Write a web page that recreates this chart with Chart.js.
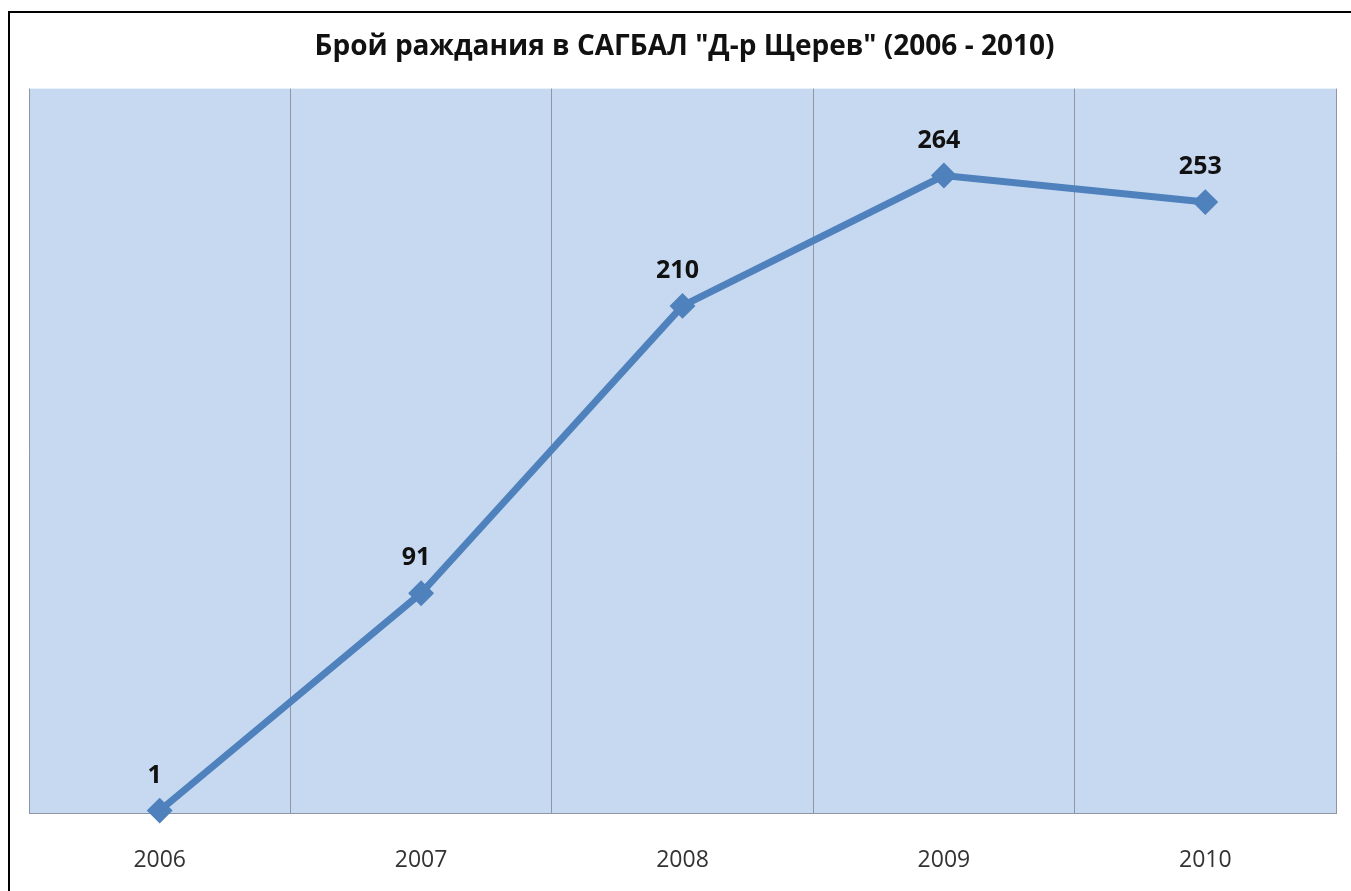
<!DOCTYPE html>
<html>
<head>
<meta charset="utf-8">
<script src="https://cdn.jsdelivr.net/npm/chart.js@4.4.1/dist/chart.umd.min.js"></script>
<style>
html,body{margin:0;padding:0;background:#fff;}
#wrap{width:1351px;height:891px;position:relative;}
</style>
</head>
<body>
<div id="wrap"><canvas id="c" width="1351" height="891"></canvas></div>
<script>
const titleText = 'Брой раждания в САГБАЛ "Д-р Щерев" (2006 - 2010)';
const categories = ['2006', '2007', '2008', '2009', '2010'];
const births = [1, 91, 210, 264, 253];
const yMin = 0;
const yMax = 300;

const frame = {
  id: 'frame',
  beforeDraw(chart) {
    const ctx = chart.ctx;
    const a = chart.chartArea;
    ctx.save();
    ctx.fillStyle = '#fff';
    ctx.fillRect(0, 0, chart.width, chart.height);
    ctx.strokeStyle = '#000';
    ctx.lineWidth = 2;
    ctx.beginPath();
    ctx.moveTo(9, chart.height);
    ctx.lineTo(9, 12);
    ctx.lineTo(chart.width, 12);
    ctx.stroke();
    ctx.fillStyle = '#c6d9f0';
    ctx.fillRect(a.left, a.top, a.right - a.left, a.bottom - a.top);
    ctx.restore();
  },
  afterDatasetsDraw(chart) {
    const ctx = chart.ctx;
    const meta = chart.getDatasetMeta(0);
    ctx.save();
    ctx.font = 'bold 25px "Open Sans", sans-serif';
    ctx.fillStyle = '#111';
    ctx.textAlign = 'center';
    ctx.textBaseline = 'middle';
    meta.data.forEach((pt, i) => {
      ctx.fillText(String(chart.data.datasets[0].data[i]), pt.x - 5, pt.y - 35);
    });
    ctx.restore();
  }
};

new Chart(document.getElementById('c'), {
  type: 'line',
  data: {
    labels: categories,
    datasets: [{
      data: births,
      borderColor: '#4f81bd',
      backgroundColor: '#4f81bd',
      borderWidth: 7,
      pointStyle: 'rectRot',
      pointRadius: 8,
      pointBackgroundColor: '#4f81bd',
      pointBorderColor: '#4f81bd',
      tension: 0,
      clip: false
    }]
  },
  options: {
    responsive: false,
    animation: false,
    devicePixelRatio: 1,
    layout: { padding: { left: 29, right: 11, top: 0, bottom: 0 } },
    plugins: {
      legend: { display: false },
      tooltip: { enabled: false },
      title: {
        display: true,
        text: titleText,
        color: '#111',
        font: { family: '"Open Sans", sans-serif', size: 28, weight: 'bold', lineHeight: 1.2 },
        padding: { top: 30, bottom: 25 }
      }
    },
    scales: {
      x: {
        offset: true,
        grid: { offset: true, color: '#8e96a3', lineWidth: 1, drawTicks: false },
        border: { display: true, color: '#8e96a3', width: 1 },
        ticks: { color: '#333', padding: 34, font: { family: '"Open Sans", sans-serif', size: 23 } },
        afterFit(s) { s.height = 78; s.paddingLeft = 0; s.paddingRight = 0; }
      },
      y: {
        display: false,
        min: yMin,
        max: yMax
      }
    }
  },
  plugins: [frame]
});
</script>
</body>
</html>
